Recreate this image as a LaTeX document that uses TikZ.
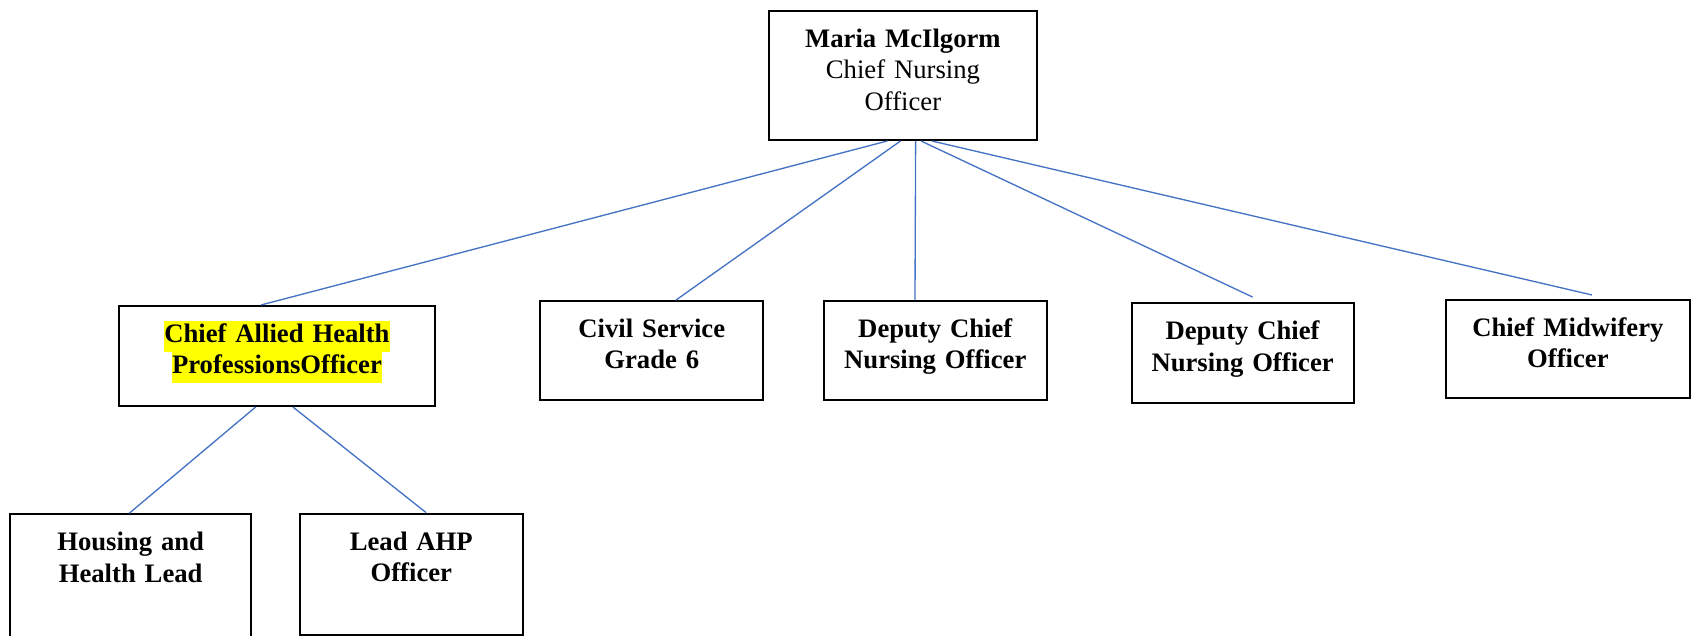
\documentclass[tikz,border=0pt]{standalone}
\usepackage{fontspec}
\setmainfont{Liberation Serif}
\usepackage{xcolor}
\usetikzlibrary{calc,positioning}
\definecolor{linkblue}{RGB}{68,114,196}
\definecolor{hlyellow}{RGB}{255,255,0}
% yellow marker behind a line of text
\newcommand\hlline[1]{{\setlength\fboxsep{0pt}\colorbox{hlyellow}{\strut #1}}}
\tikzset{
    % box with its text pushed to the top: #1 width, #2 depth below first baseline
    post/.style 2 args={
        draw,
        line width=0.9pt,
        anchor=north west,
        inner sep=0pt,
        align=center,
        text width=#1,
        text height=16.5pt,
        text depth=#2,
        font=\fontsize{12pt}{14.1pt}\selectfont\bfseries
    },
    % thin blue reporting line
    link/.style={
        linkblue,
        line width=0.6pt
    }
}

\begin{document}
\begin{tikzpicture}[x=1pt,y=1pt]
    \useasboundingbox (0,0) rectangle (761,-286.2);

    % top of the tree
    \node[post={120.6pt}{41.55pt}] (chief) at (345.6,-4.5)
        {Maria McIlgorm\\ \mdseries Chief Nursing\\ Officer};

    % second row
    \node[post={142.2pt}{28.5pt}] (ahp) at (53.1,-137.25)
        {\hlline{Chief Allied Health}\\ \hlline{ProfessionsOfficer}};
    \node[post={100.35pt}{28.2pt}] (civil) at (242.7,-135)
        {Civil Service\\ Grade 6};
    \node[post={100.5pt}{28.2pt}] (dcnoA) at (370.2,-135)
        {Deputy Chief\\ Nursing Officer};
    \node[post={99.9pt}{28.2pt}] (dcnoB) at (508.8,-136)
        {Deputy Chief\\ Nursing Officer};
    \node[post={109.8pt}{27.7pt}] (cmo) at (650.25,-134.55)
        {Chief Midwifery\\ Officer};

    % third row, under the AHP officer
    \node[post={108.3pt}{53.5pt}] (housing) at (4.2,-231)
        {Housing and\\ Health Lead};
    \node[post={100.2pt}{38.2pt}] (lead) at (134.55,-230.7)
        {Lead AHP\\ Officer};

    % lines from the chief
    \draw[link] ($(chief.south west)!.442!(chief.south east)$) -- ($(ahp.north west)!.45!(ahp.north east)$);
    \draw[link] ($(chief.south west)!.491!(chief.south east)$) -- ($(civil.north west)!.608!(civil.north east)$);
    \draw[link] ($(chief.south west)!.547!(chief.south east)$) -- ($(dcnoA.north west)!.41!(dcnoA.north east)$);
    \draw[link] ($(chief.south west)!.567!(chief.south east)$) -- ($(dcnoB.north west)!.545!(dcnoB.north east)+(0,2.3)$);
    \draw[link] ($(chief.south west)!.607!(chief.south east)$) -- ($(cmo.north west)!.598!(cmo.north east)+(0,1.8)$);

    % lines from the AHP officer
    \draw[link] ($(ahp.south west)!.433!(ahp.south east)$) -- ($(housing.north west)!.494!(housing.north east)$);
    \draw[link] ($(ahp.south west)!.55!(ahp.south east)$) -- ($(lead.north west)!.566!(lead.north east)$);
\end{tikzpicture}
\end{document}
